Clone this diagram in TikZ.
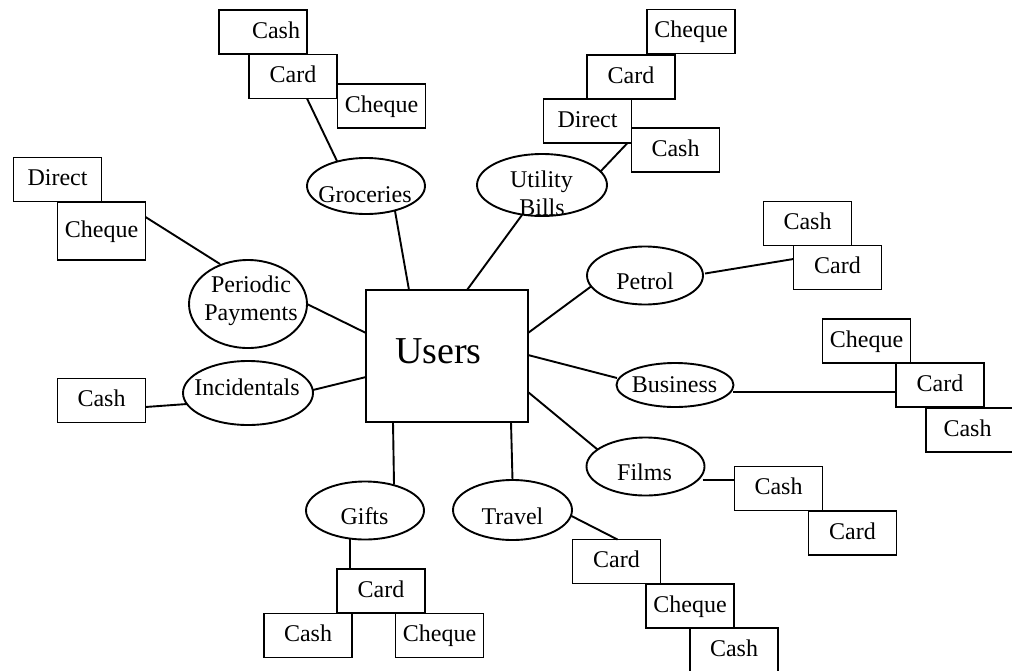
\documentclass[tikz,border=0pt]{standalone}
\usepackage{fontspec}
\setmainfont{Liberation Serif}
\usetikzlibrary{calc,shapes.geometric}
\newcommand\lblfont{\fontsize{24}{28}\selectfont}
\newcommand\bigfont{\fontsize{38}{44}\selectfont}
\tikzset{
  box/.style={draw, line width=1.9pt, minimum width=88pt, minimum height=44pt,
    inner sep=0pt, outer sep=0pt, text height=17pt, text depth=5pt, font=\lblfont},
  oval/.style={draw, ellipse, line width=1.9pt, inner sep=0pt, outer sep=0pt},
  lbl/.style={anchor=base, font=\lblfont, inner sep=0pt},
  conn/.style={line width=1.9pt}
}
\begin{document}
\begin{tikzpicture}[x=1pt,y=-1pt]
\clip (0,0) rectangle (1012,670);
\fill[white] (0,0) rectangle (1012,670);
% central box
\node[draw, line width=1.9pt, minimum width=162pt, minimum height=132pt, inner sep=0pt, outer sep=0pt] (users) at (447,356) {};
\node[lbl, font=\bigfont] (users-t) at (438.5,363) {Users};
% boxes
\node[box] (gcash) at (263,32) {\hspace*{26pt}Cash};
\node[box] (gcard) at (293,76.5) {Card};
\node[box] (gcheque) at (381.5,106) {Cheque};
\node[box] (ucheque) at (691,31.5) {Cheque};
\node[box] (ucard) at (631,77) {Card};
\node[box] (udirect) at (587.5,121) {Direct};
\node[box] (ucash) at (675.5,150) {Cash};
\node[box] (pdirect) at (57.5,179.5) {Direct};
\node[box, minimum height=58pt] (pcheque) at (101.5,231) {Cheque};
\node[box] (icash) at (101.5,400.5) {Cash};
\node[box] (pecash) at (807.5,223.5) {Cash};
\node[box] (pecard) at (837.5,267.5) {Card};
\node[box] (bcheque) at (866.5,341) {Cheque};
\node[box] (bcard) at (940,385) {Card};
\node[box, minimum width=92pt] (bcash) at (972,430) {Cash\hspace*{9pt}};
\node[box] (fcash) at (778.5,488.5) {Cash};
\node[box] (fcard) at (852.5,533) {Card};
\node[box] (tcard) at (616.5,561.5) {Card};
\node[box] (tcheque) at (690,606) {Cheque};
\node[box] (tcash) at (734,650) {Cash};
\node[box] (gicard) at (381,591) {Card};
\node[box] (gicash) at (308,635.5) {Cash};
\node[box] (gicheque) at (439.5,635.5) {Cheque};
% ellipses
\node[oval, minimum width=118pt, minimum height=56pt] (groc) at (366,186) {};
\node[lbl] (groc-t) at (365,202) {Groceries};
\node[oval, minimum width=130pt, minimum height=62pt] (util) at (542,185) {};
\node[lbl] (util-t1) at (541.5,187) {Utility};
\node[lbl] (util-t2) at (542,215) {Bills};
\node[oval, minimum width=118pt, minimum height=88pt] (peri) at (248,304) {};
\node[lbl] (peri-t1) at (251,292) {Periodic};
\node[lbl] (peri-t2) at (251,320) {Payments};
\node[oval, minimum width=130pt, minimum height=64pt] (inci) at (248,393) {};
\node[lbl] (inci-t) at (247,395) {Incidentals};
\node[oval, minimum width=116pt, minimum height=58pt] (petrol) at (645,275.5) {};
\node[lbl] (petrol-t) at (645,289) {Petrol};
\node[oval, minimum width=117pt, minimum height=44pt] (busi) at (675,385) {};
\node[lbl] (busi-t) at (674.5,392) {Business};
\node[oval, minimum width=118pt, minimum height=58pt] (films) at (645.5,466.5) {};
\node[lbl] (films-t) at (644.5,480) {Films};
\node[oval, minimum width=118pt, minimum height=58pt] (gifts) at (365,510.5) {};
\node[lbl] (gifts-t) at (364.5,524) {Gifts};
\node[oval, minimum width=119pt, minimum height=60pt] (travel) at (512.5,510) {};
\node[lbl] (travel-t) at (512.5,524) {Travel};
% connectors
\draw[conn] ($(gcard.south)+(14,0)$) -- ($(groc.center)+(-29,-25)$);
\draw[conn] ($(groc.center)+(29,25)$) -- ($(users.north west)+(43,0)$);
\draw[conn] ($(udirect.south east)+(-4,0)$) -- ($(util.center)+(58,-13)$);
\draw[conn] ($(util.center)+(-20,30)$) -- ($(users.north west)+(101,0)$);
\draw[conn] ($(pcheque.east)+(0,-14)$) -- ($(peri.center)+(-28,-40)$);
\draw[conn] (peri.east) -- ($(users.north west)+(0,43)$);
\draw[conn] ($(inci.center)+(65,-3)$) -- ($(users.north west)+(0,87)$);
\draw[conn] ($(icash.east)+(0,6.5)$) -- ($(inci.center)+(-61,11)$);
\draw[conn] ($(users.north east)+(0,43)$) -- ($(petrol.center)+(-54,11)$);
\draw[conn] ($(petrol.center)+(60,-2)$) -- ($(pecard.west)+(0,-8.5)$);
\draw[conn] ($(users.north east)+(0,65)$) -- ($(busi.center)+(-58,-7)$);
\draw[conn] ($(busi.center)+(58,7)$) -- ($(bcard.west)+(0,7)$);
\draw[conn] ($(users.north east)+(0,102)$) -- ($(films.center)+(-48,-17)$);
\draw[conn] ($(films.center)+(57,13.5)$) -- ($(fcash.west)+(0,-8.5)$);
\draw[conn] ($(users.south west)+(27,0)$) -- ($(gifts.center)+(29,-26)$);
\draw[conn] ($(users.south west)+(145,0)$) -- (travel.north);
\draw[conn] ($(gifts.center)+(-15,28)$) -- ($(gicard.north west)+(13,0)$);
\draw[conn] ($(travel.center)+(59,6)$) -- ($(tcard.north west)+(45,0)$);
\end{tikzpicture}
\end{document}
